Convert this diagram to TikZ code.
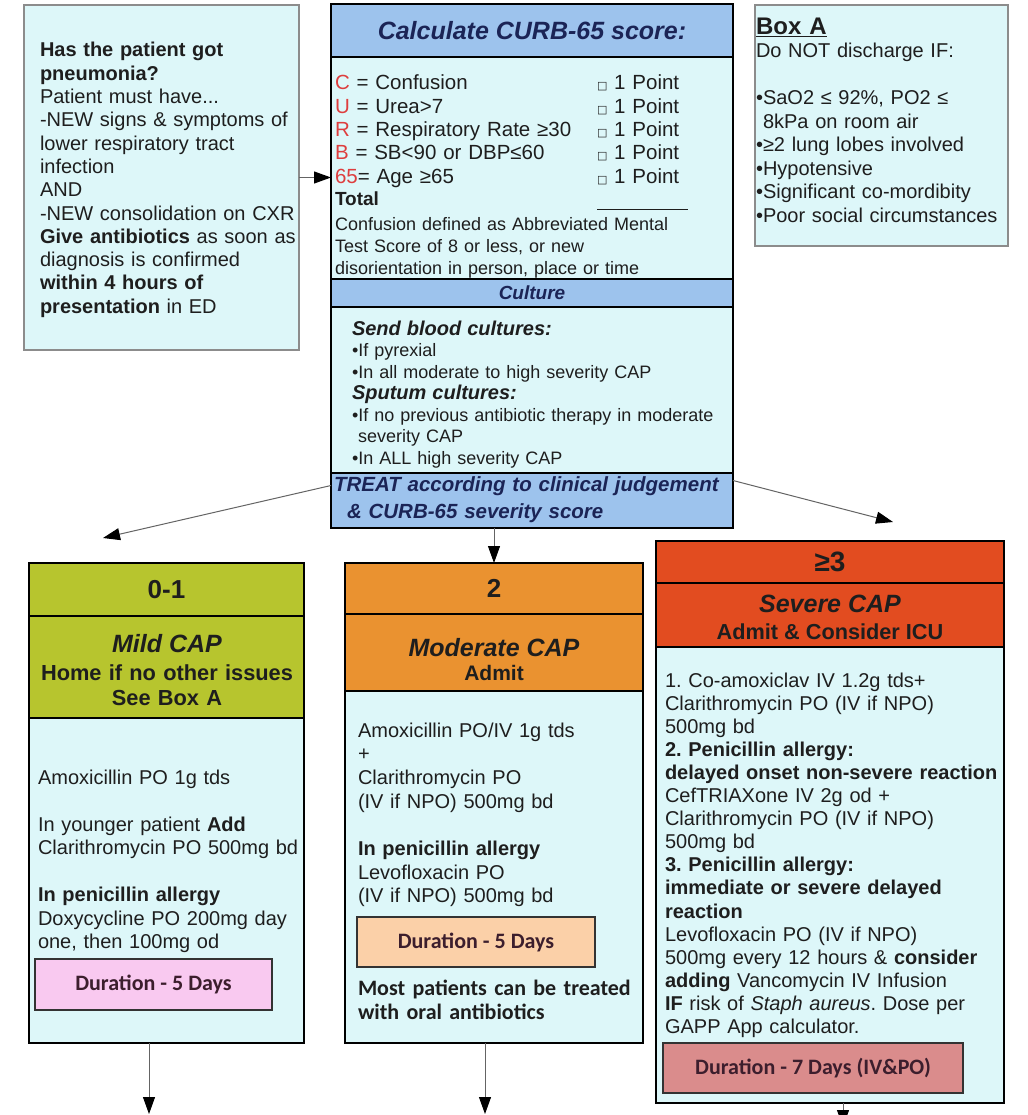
\documentclass[tikz,border=0pt]{standalone}
\usepackage{fontspec}
\setmainfont{Liberation Sans}
\newfontfamily\calib{Carlito}
\newfontfamily\dejavu{DejaVu Sans}
\usetikzlibrary{arrows.meta}
\definecolor{cyanbg}{RGB}{221,247,249}
\definecolor{bandblue}{RGB}{157,195,237}
\definecolor{navy}{RGB}{27,36,86}
\definecolor{curbred}{RGB}{222,62,62}
\definecolor{oliveh}{RGB}{183,197,46}
\definecolor{orangeh}{RGB}{234,146,48}
\definecolor{redh}{RGB}{226,76,32}
\definecolor{pinkd}{RGB}{249,201,240}
\definecolor{peachd}{RGB}{251,208,168}
\definecolor{rosed}{RGB}{218,140,140}
\definecolor{textc}{RGB}{30,30,30}
\definecolor{durtext}{RGB}{60,30,45}
\definecolor{greyb}{RGB}{140,140,140}
\definecolor{arrowc}{RGB}{100,100,100}
\newcommand\fsz[2]{\fontsize{#1}{#2}\selectfont}
\begin{document}
\frenchspacing
\begin{tikzpicture}[x=1pt,y=-1pt,
  every node/.style={inner sep=0pt,outer sep=0pt,text=textc},
  thickbox/.style={draw=black,line width=2.8pt,anchor=north west},
  thinbox/.style={draw=greyb,line width=1.2pt,fill=cyanbg,anchor=north west},
  durbox/.style={draw=black!80,line width=1.5pt,anchor=north west,text=durtext,font=\calib\bfseries\fsz{22}{24}},
  txt/.style={anchor=base west,align=left,text width=#1},
  ctxt/.style={anchor=base,align=center},
  conn/.style={draw=arrowc,line width=1pt,-{Triangle[length=17pt,width=12pt,color=black,fill=black]}}
]
\fill[white] (0,0) rectangle (1027,1115);
\useasboundingbox (0,0) rectangle (1027,1115);

% ---------- top left box
\node[thinbox,minimum width=275pt,minimum height=345pt] (leftbox) at (24,5) {};
\node[txt=270pt,font=\fsz{20}{23.3}] (lefttxt) at (40,57) {\textbf{Has the patient got}\\
\textbf{pneumonia?}\\
Patient must have...\\
-NEW signs \& symptoms of\\
lower respiratory tract\\
infection\\
AND\\
-NEW consolidation on CXR\\
\textbf{Give antibiotics} as soon as\\
diagnosis is confirmed\\
\textbf{within 4 hours of}\\
\textbf{presentation} in ED};

% ---------- CURB column
\node[thickbox,fill=bandblue,minimum width=402pt,minimum height=53pt,text=navy,font=\bfseries\itshape\fsz{25}{28}] (curbtitle) at (331,4) {Calculate CURB-65 score:};
\node[thickbox,fill=cyanbg,minimum width=402pt,minimum height=222pt] (curbbody) at (331,57) {};
\node[thickbox,fill=bandblue,minimum width=402pt,minimum height=28pt,text=navy,font=\bfseries\itshape\fsz{19}{21}] (culthead) at (331,279) {Culture};
\node[thickbox,fill=cyanbg,minimum width=402pt,minimum height=166pt] (cultbody) at (331,307) {};
\node[thickbox,fill=bandblue,minimum width=402pt,minimum height=55pt] (treat) at (331,473) {};

\node[txt=260pt,font=\fsz{20.5}{23.3}] (curbleft) at (335,90) {\textcolor{curbred}{C} = Confusion\\
\textcolor{curbred}{U} = Urea>7\\
\textcolor{curbred}{R} = Respiratory Rate ≥30\\
\textcolor{curbred}{B} = SB<90 or DBP≤60\\
\textcolor{curbred}{65}= Age ≥65};
\node[txt=120pt,font=\fsz{20.5}{23.3}] (curbpts) at (597,90) {{\dejavu\fsz{11}{23.3}□} 1 Point\\
{\dejavu\fsz{11}{23.3}□} 1 Point\\
{\dejavu\fsz{11}{23.3}□} 1 Point\\
{\dejavu\fsz{11}{23.3}□} 1 Point\\
{\dejavu\fsz{11}{23.3}□} 1 Point};
\node[txt=100pt,font=\bfseries\fsz{19}{22}] (curbtotal) at (335,206) {Total};
\draw[line width=1pt,textc] (597,210) -- (688,210);
\node[txt=390pt,font=\fsz{18}{22}] (curbnote) at (335,230) {Confusion defined as Abbreviated Mental\\
Test Score of 8 or less, or new\\
disorientation in person, place or time};

\node[txt=380pt,font=\fsz{18}{21.5}] (culttxt) at (352,335) {{\fsz{20}{21.5}\textbf{\textit{Send blood cultures:}}}\\
•If pyrexial\\
•In all moderate to high severity CAP\\
{\fsz{20}{21.5}\textbf{\textit{Sputum cultures:}}}\\
•If no previous antibiotic therapy in moderate\\
\hspace*{6pt}severity CAP\\
•In ALL high severity CAP};

\node[txt=395pt,font=\bfseries\itshape\fsz{20.5}{27},text=navy] (treattxt) at (334,491) {TREAT according to clinical judgement\\
\hspace*{13pt}\& CURB-65 severity score};

% ---------- Box A
\node[thinbox,minimum width=253pt,minimum height=241pt] (boxA) at (755,5) {};
\node[txt=240pt,font=\bfseries\fsz{24}{26}] (boxAtitle) at (756,35) {\underline{Box A}};
\node[txt=250pt,font=\fsz{20}{23.5}] (boxAtxt) at (756,58) {Do NOT discharge IF:\\
~\\
•SaO2 ≤ 92\%, PO2 ≤\\
\hspace*{7pt}8kPa on room air\\
•≥2 lung lobes involved\\
•Hypotensive\\
•Significant co-mordibity\\
•Poor social circumstances};

% ---------- Mild
\node[thickbox,fill=oliveh,minimum width=275pt,minimum height=53pt,font=\bfseries\fsz{26}{28}] (mildhead) at (29,563) {0-1};
\node[thickbox,fill=oliveh,minimum width=275pt,minimum height=102pt] (mildsub) at (29,616) {};
\node[thickbox,fill=cyanbg,minimum width=275pt,minimum height=325pt] (mildbody) at (29,718) {};
\node[ctxt,font=\bfseries\itshape\fsz{25}{28}] (mildt1) at (167,652) {Mild CAP};
\node[ctxt,text width=270pt,font=\bfseries\fsz{21.8}{25}] (mildt2) at (167,680) {Home if no other issues\\See Box A};
\node[txt=268pt,font=\fsz{20}{23.5}] (mildtxt) at (38,784) {Amoxicillin PO 1g tds\\
~\\
In younger patient \textbf{Add}\\
Clarithromycin PO 500mg bd\\
~\\
\textbf{In penicillin allergy}\\
Doxycycline PO 200mg day\\
one, then 100mg od};
\node[durbox,fill=pinkd,minimum width=237pt,minimum height=51pt] (milddur) at (35,959) {Duration - 5 Days};

% ---------- Moderate
\node[thickbox,fill=orangeh,minimum width=298pt,minimum height=51pt,font=\bfseries\fsz{26}{28}] (modhead) at (345,563) {2};
\node[thickbox,fill=orangeh,minimum width=298pt,minimum height=77pt] (modsub) at (345,614) {};
\node[thickbox,fill=cyanbg,minimum width=298pt,minimum height=352pt] (modbody) at (345,691) {};
\node[ctxt,font=\bfseries\itshape\fsz{25}{28}] (modt1) at (494,656) {Moderate CAP};
\node[ctxt,font=\bfseries\fsz{21}{24}] (modt2) at (494,680.5) {Admit};
\node[txt=280pt,font=\fsz{20}{23.7}] (modtxt) at (358,737) {Amoxicillin PO/IV 1g tds\\
+\\
Clarithromycin PO\\
(IV if NPO) 500mg bd\\
~\\
\textbf{In penicillin allergy}\\
Levofloxacin PO\\
(IV if NPO) 500mg bd};
\node[durbox,fill=peachd,minimum width=238pt,minimum height=50pt] (moddur) at (357,917) {Duration - 5 Days};
\node[txt=285pt,font=\calib\bfseries\fsz{22}{24.5}] (modnote) at (358,995) {Most patients can be treated\\
with oral antibiotics};

% ---------- Severe
\node[thickbox,fill=redh,minimum width=348pt,minimum height=42pt,font=\bfseries\fsz{28}{30}] (sevhead) at (656,541) {≥3};
\node[thickbox,fill=redh,minimum width=348pt,minimum height=64pt] (sevsub) at (656,583) {};
\node[thickbox,fill=cyanbg,minimum width=348pt,minimum height=456pt] (sevbody) at (656,647) {};
\node[ctxt,font=\bfseries\itshape\fsz{25}{28}] (sevt1) at (830,612) {Severe CAP};
\node[ctxt,font=\bfseries\fsz{21.7}{24}] (sevt2) at (830,639) {Admit \& Consider ICU};
\node[txt=340pt,font=\fsz{20}{23.1}] (sevtxt) at (665,687) {1. Co-amoxiclav IV 1.2g tds+\\
Clarithromycin PO (IV if NPO)\\
500mg bd\\
\textbf{2. Penicillin allergy:}\\
\textbf{delayed onset non-severe reaction}\\
CefTRIAXone IV 2g od +\\
Clarithromycin PO (IV if NPO)\\
500mg bd\\
\textbf{3. Penicillin allergy:}\\
\textbf{immediate or severe delayed}\\
\textbf{reaction}\\
Levofloxacin PO (IV if NPO)\\
500mg every 12 hours \& \textbf{consider}\\
\textbf{adding} Vancomycin IV Infusion\\
\textbf{IF} risk of \textit{Staph aureus}. Dose per\\
GAPP App calculator.};
\node[durbox,fill=rosed,minimum width=300pt,minimum height=50pt] (sevdur) at (663,1043) {Duration - 7 Days (IV\&PO)};

% ---------- connectors
\coordinate (tipL) at (103,538);
\coordinate (tipR) at (893,522);
\coordinate (endmild) at (149,1114);
\coordinate (endmod) at (485,1114);
\coordinate (endsev) at (843,1127);
\draw[conn] (leftbox.east) -- (leftbox.east -| curbbody.west);
\draw[conn] ([yshift=15pt]treat.west) -- (tipL);
\draw[conn] ([yshift=20pt]treat.east) -- (tipR);
\draw[conn] (treat.south -| modhead.north) -- (modhead.north);
\draw[conn] (mildbody.south -| endmild) -- (endmild);
\draw[conn] (modbody.south -| endmod) -- (endmod);
\draw[conn] (sevbody.south -| endsev) -- (endsev);
\end{tikzpicture}
\end{document}
